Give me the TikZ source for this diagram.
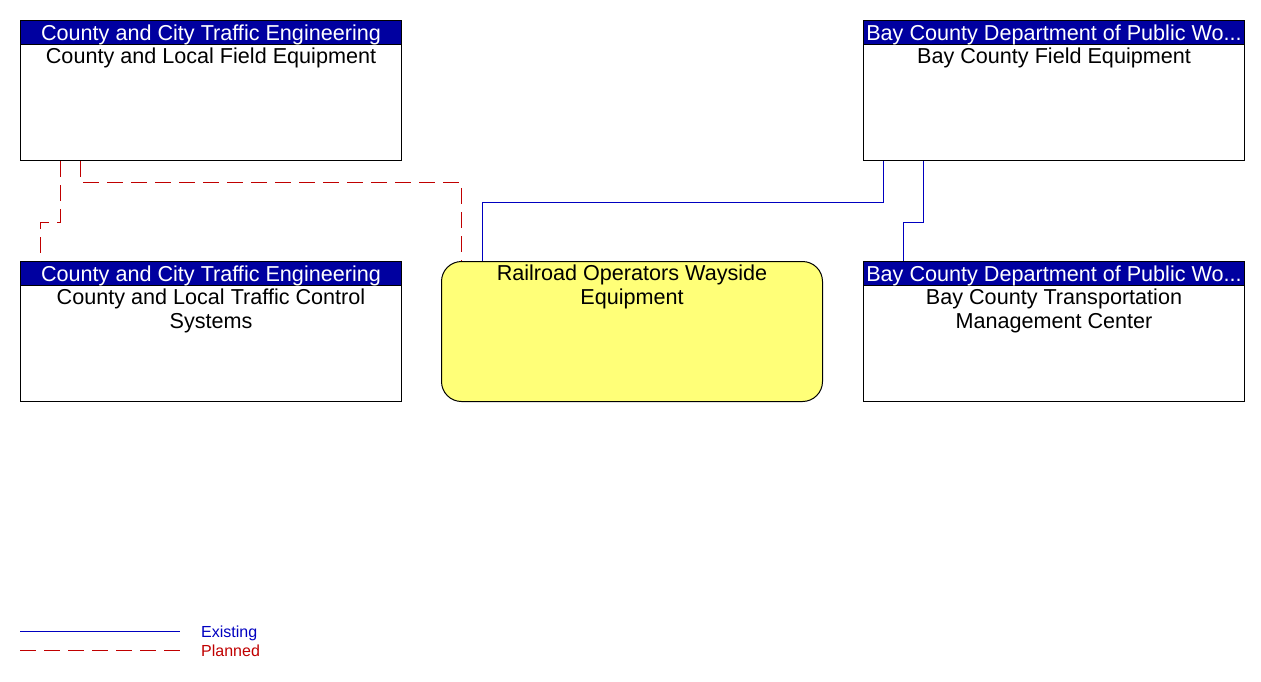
\documentclass[tikz,border=0pt]{standalone}
\usepackage{fontspec}
\setmainfont{Liberation Sans}
\usepackage{xcolor}
\definecolor{hdrblue}{RGB}{0,0,160}
\definecolor{existblue}{RGB}{0,0,192}
\definecolor{planred}{RGB}{192,0,0}
\definecolor{railyellow}{RGB}{255,255,120}
\usepackage{tikz}
\usetikzlibrary{positioning, calc}

\begin{document}
\begin{tikzpicture}[x=1pt, y=-1pt,
  elem/.style={rectangle, draw=black, fill=white, line width=1pt, inner sep=0pt,
               minimum width=381pt, minimum height=140pt, anchor=north west},
  rail/.style={elem, fill=railyellow, rounded corners=20pt},
  hdr/.style={rectangle, draw=black, fill=hdrblue, line width=1pt, inner sep=0pt,
              minimum width=381pt, minimum height=24pt, anchor=north},
  hdrtxt/.style={anchor=base, text=white, inner sep=0pt, font=\fontsize{21.6}{24}\selectfont},
  ttl/.style={anchor=north, align=center, inner sep=0pt, font=\fontsize{21.6}{24}\selectfont},
  existing/.style={draw=existblue, line width=1pt},
  planned/.style={draw=planred, line width=1pt, dash pattern=on 16pt off 8pt},
  legtxt/.style={anchor=base west, inner sep=0pt, font=\fontsize{16}{18}\selectfont}
]
  \useasboundingbox (0,0) rectangle (1261,681);

  % Elements
  \node[elem] (cntyfield) at (20,20) {};
  \node[hdr] (cntyfieldhdr) at (cntyfield.north) {};
  \node[hdrtxt] at ([yshift=-20pt]cntyfield.north) {County and City Traffic Engineering};
  \node[ttl] at ([yshift=-28pt]cntyfield.north) {County and Local Field Equipment};

  \node[elem] (cntytcs) at (20,261) {};
  \node[hdr] (cntytcshdr) at (cntytcs.north) {};
  \node[hdrtxt] at ([yshift=-20pt]cntytcs.north) {County and City Traffic Engineering};
  \node[ttl] at ([yshift=-28pt]cntytcs.north) {County and Local Traffic Control\\Systems};

  \node[rail] (wayside) at (441,261) {};
  \node[ttl] at ([yshift=-4pt]wayside.north) {Railroad Operators Wayside\\Equipment};

  \node[elem] (bayfield) at (863,20) {};
  \node[hdr] (bayfieldhdr) at (bayfield.north) {};
  \node[hdrtxt] at ([yshift=-20pt]bayfield.north) {Bay County Department of Public Wo...};
  \node[ttl] at ([yshift=-28pt]bayfield.north) {Bay County Field Equipment};

  \node[elem] (baytmc) at (863,261) {};
  \node[hdr] (baytmchdr) at (baytmc.north) {};
  \node[hdrtxt] at ([yshift=-20pt]baytmc.north) {Bay County Department of Public Wo...};
  \node[ttl] at ([yshift=-28pt]baytmc.north) {Bay County Transportation\\Management Center};

  % Flows
  \draw[planned] ([xshift=40pt]cntyfield.south west) -- ++(0,61) -| ([xshift=20pt]cntytcs.north west);
  \draw[planned] ([xshift=60pt]cntyfield.south west) -- ++(0,21) -| ([xshift=20pt]wayside.north west);
  \draw[existing] ([xshift=20pt]bayfield.south west) -- ++(0,41) -| ([xshift=41pt]wayside.north west);
  \draw[existing] ([xshift=60pt]bayfield.south west) -- ++(0,61) -| ([xshift=40pt]baytmc.north west);

  % Legend
  \coordinate (exista) at (20,631);
  \coordinate (existb) at (180,631);
  \coordinate (plana) at (20,650);
  \coordinate (planb) at (180,650);
  \draw[existing] (exista) -- (existb);
  \draw[planned] (plana) -- (planb);
  \node[legtxt, text=existblue] at (201,637) {Existing};
  \node[legtxt, text=planred] at (201,656) {Planned};
\end{tikzpicture}
\end{document}
